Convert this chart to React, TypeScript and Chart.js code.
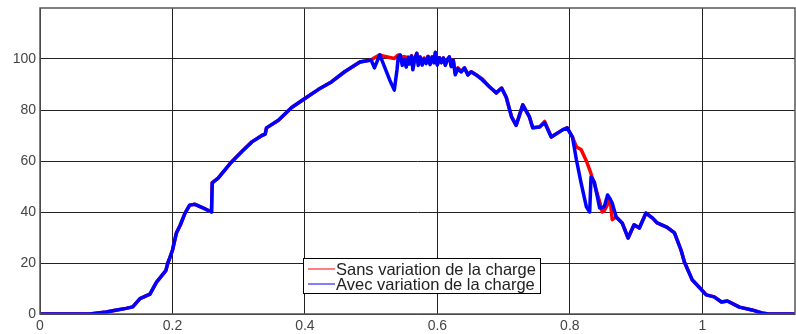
import React, { useEffect, useRef } from "react";
import { Chart, registerables } from "chart.js";

Chart.register(...registerables);

const xValues = [
  0, 0.05, 0.075, 0.1, 0.116, 0.13, 0.14, 0.151, 0.166, 0.176, 0.19, 0.193, 0.196, 0.2, 0.206, 0.212, 0.219, 0.226,
  0.234, 0.246, 0.259, 0.26, 0.269, 0.287, 0.306, 0.32, 0.335, 0.34, 0.342, 0.36, 0.38, 0.4, 0.42, 0.44, 0.46, 0.483,
  0.5, 0.505, 0.513, 0.518, 0.528, 0.535, 0.539,
  0.541, 0.544, 0.547, 0.55, 0.553, 0.556, 0.558, 0.561, 0.563, 0.566,
  0.569, 0.571, 0.574, 0.577, 0.58, 0.583, 0.586, 0.589, 0.592, 0.595,
  0.597, 0.6, 0.603, 0.606, 0.609, 0.612, 0.615, 0.618, 0.621, 0.624,
  0.627, 0.631, 0.636, 0.641, 0.646, 0.651,
  0.66, 0.668, 0.679, 0.689, 0.697, 0.704, 0.712, 0.719, 0.729, 0.739, 0.744, 0.754, 0.762, 0.772, 0.789, 0.796, 0.804,
  0.81, 0.817, 0.825, 0.83, 0.832, 0.837, 0.845, 0.849, 0.852, 0.857, 0.861, 0.864, 0.87,
  0.879, 0.888, 0.897, 0.905, 0.915, 0.925, 0.932, 0.947, 0.958, 0.968, 0.973, 0.985, 0.995, 1.006, 1.018, 1.029, 1.038,
  1.056, 1.075, 1.09, 1.1, 1.14,
];

const withVariation = [
  0, 0, 0, 0.8, 1.6, 2.2, 2.8, 6, 7.8, 12.5, 17, 20, 22, 25, 31.8, 35, 39.6, 42.7,
  43, 41.6, 40, 51.4, 53.3, 59, 64, 67.5, 70, 70.5, 73, 76, 81, 84.5, 88, 91, 95, 98.8,
  99.6, 96.5, 101.6, 98.4, 91.8, 87.8, 95.7,
  100.8, 101.5, 97.5, 99.8, 96.8, 100.5, 98, 101.2, 95.8, 100,
  102.2, 97.5, 100.8, 97.6, 100, 98.2, 101, 97.8, 100.8, 98.5,
  102.6, 97.6, 100.5, 98.6, 100.4, 97.5, 99.8, 100.8, 97, 99.5,
  93.8, 96.2, 94.9, 96.5, 93.7, 95,
  93.5, 91.8, 89, 86.7, 88.6, 85, 77.3, 74, 82, 77.3, 73, 73.3, 75, 69.4, 72.2, 73, 69.4,
  60.4, 51.4, 42, 40, 53.7, 51.8, 41.6, 41.8, 42, 46.7, 45, 43.5, 38,
  35.7, 29.8, 35, 33.7, 39.6, 37.6, 35.7, 34, 31.8, 25, 20.4, 13.3, 10.6, 7.5, 6.7, 4.7, 5.1,
  2.7, 1.6, 0.4, 0, 0,
];

const withoutVariation = [
  0, 0, 0, 0.8, 1.6, 2.2, 2.8, 6, 7.8, 12.5, 17, 20, 22, 25, 31.8, 35, 39.6, 42.7,
  43, 41.6, 40, 51.4, 53.3, 59, 64, 67.5, 70, 70.5, 73, 76, 81, 84.5, 88, 91, 95, 98.8,
  99.6, 100.5, 101.6, 101.2, 100.6, 100.2, 101.2,
  101.6, 101.6, 100.5, 101, 100.6, 100.8, 99.5, 101.2, 99, 100.5,
  102.2, 98.5, 100.8, 98.5, 100.4, 98.8, 101, 98.2, 100.8, 98.8,
  102.6, 97.8, 100.5, 98.6, 100.4, 97.8, 99.8, 100.8, 97.2, 99.6,
  94.5, 96.5, 95.2, 96.5, 94, 95,
  93.5, 92.2, 89, 86.7, 88.6, 85, 77.3, 74, 82, 77.3, 73, 73.3, 75.5, 69.4, 72.2, 73, 69.4,
  65.5, 64.5, 60, 56.5, 55, 51, 44, 40, 40.5, 43, 45, 37, 38,
  35.7, 29.8, 35, 33.7, 39.6, 37.6, 35.7, 34, 31.8, 25, 20.4, 13.3, 10.6, 7.5, 6.7, 4.7, 5.1,
  2.7, 1.6, 0.4, 0, 0,
];

const xTicks = [0, 0.2, 0.4, 0.6, 0.8, 1];
const yTicks = [0, 20, 40, 60, 80, 100];
const seriesLabels = ["Sans variation de la charge", "Avec variation de la charge"];
const seriesColors = ["#ff0000", "#0000ff"];

const FONT = "'Liberation Sans', Arial, Helvetica, sans-serif";

const frameAndLegend = {
  id: "frameAndLegend",
  afterDraw(chart: any) {
    const { ctx, chartArea } = chart;
    ctx.save();
    ctx.strokeStyle = "#555";
    ctx.lineWidth = 1.5;
    ctx.strokeRect(chartArea.left, chartArea.top, chartArea.right - chartArea.left, chartArea.bottom - chartArea.top);

    const bx = chartArea.left + 263;
    const by = chartArea.top + 250;
    const bw = 237;
    const bh = 35;
    ctx.fillStyle = "#fff";
    ctx.fillRect(bx, by, bw, bh);
    ctx.strokeStyle = "#000";
    ctx.lineWidth = 1;
    ctx.strokeRect(bx + 0.5, by + 0.5, bw, bh);
    ctx.font = `16.5px ${FONT}`;
    ctx.textBaseline = "middle";
    seriesLabels.forEach((label, i) => {
      const ly = by + 11 + i * 15;
      ctx.strokeStyle = seriesColors[i];
      ctx.lineWidth = 1;
      ctx.beginPath();
      ctx.moveTo(bx + 5, ly);
      ctx.lineTo(bx + 32, ly);
      ctx.stroke();
      ctx.fillStyle = "#222";
      ctx.fillText(label, bx + 33, ly + 1);
    });
    ctx.restore();
  },
};

export default function App() {
  const ref = useRef<HTMLCanvasElement>(null);
  useEffect(() => {
    document.body.style.margin = "0";
    if (!ref.current) return;
    const toPts = (arr: number[]) => xValues.map((x, i) => ({ x, y: arr[i] }));
    const chart = new Chart(ref.current, {
      type: "line",
      data: {
        datasets: [
          {
            label: seriesLabels[0],
            data: toPts(withoutVariation),
            borderColor: seriesColors[0],
            borderWidth: 3.5,
            borderJoinStyle: "round",
            borderCapStyle: "round",
            pointRadius: 0,
            tension: 0,
            order: 2,
          },
          {
            label: seriesLabels[1],
            data: toPts(withVariation),
            borderColor: seriesColors[1],
            borderWidth: 3.5,
            borderJoinStyle: "round",
            borderCapStyle: "round",
            pointRadius: 0,
            tension: 0,
            order: 1,
          },
        ],
      },
      options: {
        responsive: false,
        animation: false,
        layout: { padding: { top: 8, right: 1, left: 0, bottom: 0 } },
        plugins: { legend: { display: false }, tooltip: { enabled: false } },
        scales: {
          x: {
            type: "linear",
            min: 0,
            max: 1.14,
            afterBuildTicks: (s: any) => {
              s.ticks = xTicks.map((v) => ({ value: v }));
            },
            afterFit: (s: any) => {
              s.height = 20;
              s.paddingLeft = 0;
              s.paddingRight = 0;
            },
            grid: { color: "#222", lineWidth: 1, drawTicks: false },
            border: { display: false },
            ticks: {
              padding: 4,
              color: "#444",
              font: { family: FONT, size: 14 },
              maxRotation: 0,
              callback: (v: any) => String(v),
            },
          },
          y: {
            type: "linear",
            min: 0,
            max: 120,
            afterBuildTicks: (s: any) => {
              s.ticks = yTicks.map((v) => ({ value: v }));
            },
            afterFit: (s: any) => {
              s.width = 40;
              s.paddingTop = 0;
              s.paddingBottom = 0;
            },
            grid: { color: "#222", lineWidth: 1, drawTicks: false },
            border: { display: false },
            ticks: {
              padding: 4,
              color: "#444",
              font: { family: FONT, size: 14 },
            },
          },
        },
      },
      plugins: [frameAndLegend],
    });
    return () => chart.destroy();
  }, []);
  return (
    <div style={{ width: 796, height: 334, background: "#fff" }}>
      <canvas ref={ref} width={796} height={334} />
    </div>
  );
}
